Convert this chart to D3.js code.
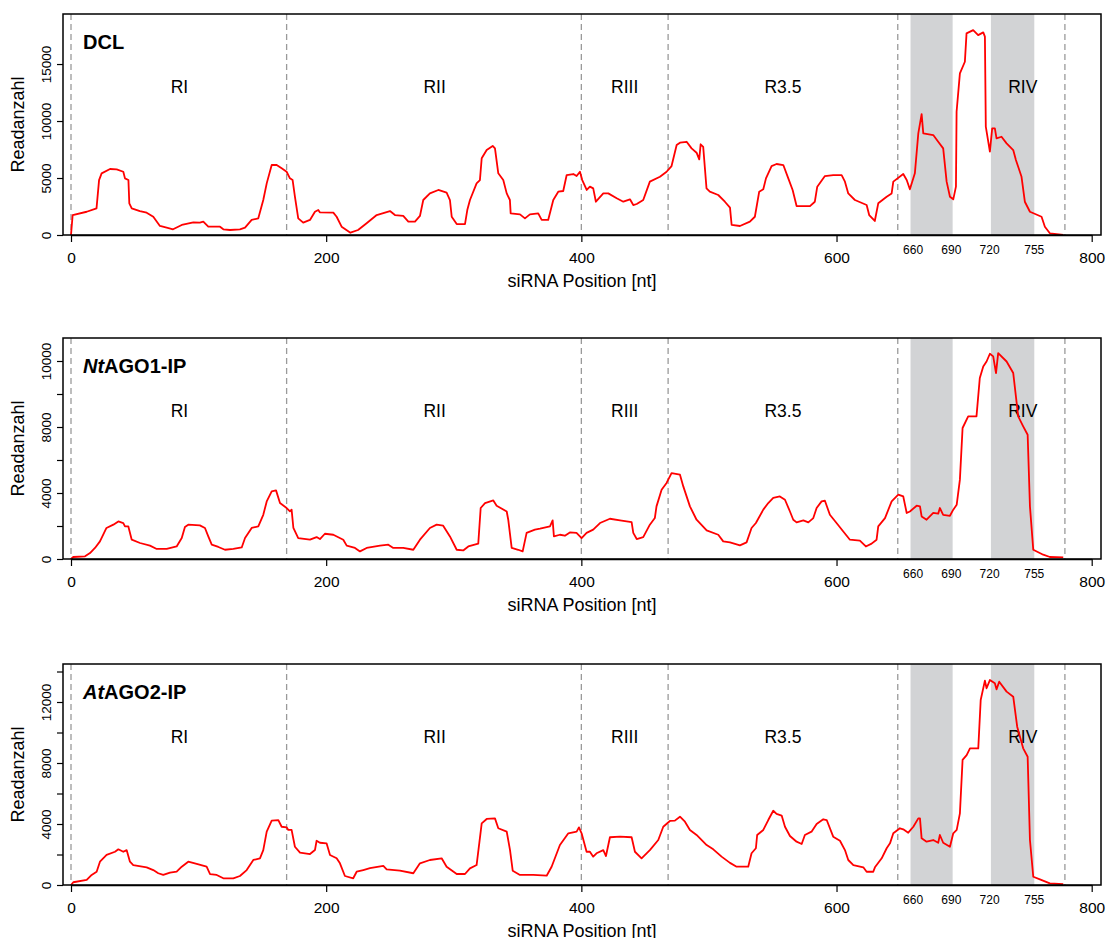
<!DOCTYPE html>
<html><head><meta charset="utf-8">
<script src="https://cdn.jsdelivr.net/npm/d3@7"></script>
<style>
body{margin:0;background:#fff;}
text{font-family:"Liberation Sans",Arial,Helvetica,sans-serif;fill:#000;}
</style></head>
<body><svg id="chart" width="1111" height="938"></svg>
<script>
// ---------- DATA ----------
const panelTitles = ["DCL", "AGO1-IP", "AGO2-IP"];
const panelItalicPrefix = ["", "Nt", "At"];
const regionNames = ["RI", "RII", "RIII", "R3.5", "RIV"];
const regionLabelPos = [85, 285, 434, 558, 746];
const regionBoundaries = [0, 169, 400, 468, 648, 779];
const shadedBands = [[658, 691], [721, 755]];
const xMajorTicks = [0, 200, 400, 600, 800];
const xMinorLabels = [660, 690, 720, 755];

const yTicks1 = [0, 5000, 10000, 15000];
const yLabels1 = ["0", "5000", "10000", "15000"];
const yTicks2 = [0, 2000, 4000, 6000, 8000, 10000, 12000];
const yLabels2 = ["0", "", "4000", "", "8000", "", "10000"];
const yTicks3 = [0, 2000, 4000, 6000, 8000, 10000, 12000, 14000];
const yLabels3 = ["0", "", "4000", "", "8000", "", "12000", ""];
const yMax = [19390, 13394, 14492];

const dclPos = [0,1.3,12.3,20,22,24,30.6,35.8,41,42.3,45,45.7,47.6,54,59.3,64.5,69.7,75,80,86.8,95.9,101,103.7,107.6,116.8,119.4,124.6,132.4,136.4,141.6,146.8,150.7,153.4,157.3,161.2,165.1,169,171.6,173.7,175.5,178.1,182,187.3,191.2,193.8,195,205.6,208.2,212.1,219,225,231.7,239.6,250,253.9,260.4,264.4,269.6,273.5,276.1,281.3,287.9,294.4,297,298.4,302.3,308.8,310.6,312.7,317.9,320.5,321.9,325.8,330.5,332.3,334.9,338.8,341.5,344,344.6,351.9,355.8,359.7,366.2,368.9,374,378,381.9,385.8,388.5,393.7,396.3,398.9,400.7,404.2,406.7,409.3,411.4,417.2,421.1,427.7,432.9,438.1,440.7,443.4,448.5,453.7,461.6,466.8,470.7,474.7,477.3,482.5,486.4,490.3,492.4,493.5,495.5,498.1,500.7,507.3,512.5,516.5,517.8,524.3,532.1,536,539.4,542.6,544.7,549.1,553,558.3,562.2,565.6,568.7,579.2,583,584.9,590.9,597.4,604,606.6,609.2,614.4,623.6,625.6,630,632.7,639.3,643.2,644.5,652.3,655,657.5,661.4,664.1,666.7,668,675.8,679.7,683.6,686.3,688.9,691.5,693.6,694.1,696.7,700.6,701.9,707.1,711,715,716.3,717,720.2,722,724.1,725.4,729.3,733.3,738.5,740.6,745,747.6,751.6,760.7,763.3,767.2,777.7];
const dclReads = [0,1754,2040,2340,4820,5410,5790,5760,5550,4970,4820,2780,2340,2100,1960,1600,790,640,500,880,1110,1080,1170,730,730,500,440,500,640,1320,1460,3070,4530,6140,6140,5850,5550,4970,4820,3360,1460,1080,1320,2040,2190,1990,1960,1600,730,200,440,1030,1750,2100,1750,1670,1170,1170,1670,3070,3650,3950,3710,3070,1600,960,960,2190,3070,4530,4820,6730,7450,7810,7600,5410,4820,3650,3070,1900,1810,1460,1810,1900,1320,1320,3070,3800,3860,5260,5350,5170,5550,4820,3950,4240,4090,2920,3650,3650,3220,2920,3130,2630,2720,3070,4680,5110,5550,6050,7890,8100,8180,7600,7220,6640,7960,7740,4090,3800,3510,2920,2400,880,790,1170,1600,3800,4010,4970,6050,6230,6140,4970,3950,2540,2540,2920,4240,5170,5260,5260,4680,3650,3070,2630,1750,1230,2780,3360,3650,4680,5350,4820,4010,5410,8920,10610,8920,8770,8180,7600,4680,3360,3130,4240,10810,14180,15200,17690,17980,17540,17780,17400,9500,7310,9360,9360,8480,8620,8040,7450,6580,5110,2920,2040,1600,730,150,0];

const ago1Pos = [0,1.8,11,14.9,18.8,22.7,27.8,33.2,37.1,41,42.3,44.9,47.6,54.1,61.9,67.2,75,82.8,86.8,89.3,91.9,101,105,107.6,110.3,115.5,120.7,127.2,133.8,136.4,141.6,146.8,150.7,153.4,157.3,160.7,163.8,169,171.6,172.9,174.3,178.1,187.3,192.5,195.1,199,205.6,213.4,216.1,222.6,226.5,231.7,242.2,248.7,252.6,260.4,268.3,273.5,281.3,286.6,291.7,297,302.3,307.4,311.4,319.2,321.1,324.5,331,333.6,341.5,342.7,345.4,350.5,354,357.1,363.6,367.6,375.4,377.5,378.5,383.2,387.1,391,396.2,400.2,404.1,409.3,414.6,422.4,430.3,439.4,440.7,443.4,448.5,453.7,457.6,458.9,462.9,466.8,470.7,477.3,479.9,485.1,490.3,498.2,507.3,511.2,516.5,524.3,529.5,533.4,536.8,542.6,546.5,550.4,555.6,559.6,563.5,566.1,568.7,574,577.9,581.8,584.4,588.3,590.9,594.8,600,605.3,610.5,618.3,623,627.5,631.4,632.7,638,643.2,648.4,652.3,655,657.5,662.8,665.4,666.7,670.6,675.8,679.7,681,683.6,688.9,691.5,694.2,696.7,698.8,703.2,709.7,712.3,715,717.6,720.2,722.8,725,726.7,733.3,738.5,742.4,746.3,749.8,751.6,754.2,762,767.2,777.7];
const ago1Reads = [0,120,160,360,670,1070,1880,2080,2280,2180,1980,1980,1170,970,810,610,610,760,1270,1940,2080,2040,1880,1370,870,730,560,620,700,1270,1880,1980,2680,3490,4100,4160,3390,3090,2890,2990,1880,1270,1170,1330,1210,1530,1470,1170,810,670,460,670,810,870,670,670,560,1170,1880,2080,2020,1370,560,520,760,930,3090,3390,3550,3230,2880,2380,670,560,460,1580,1780,1840,1980,2340,1370,1470,1410,1610,1580,1270,1580,1780,2180,2440,2340,2240,1580,1210,1330,2080,2480,3190,4200,4610,5210,5110,4400,3190,2380,1730,1470,1070,1010,830,1010,1880,2180,2990,3390,3700,3790,3590,2880,2380,2220,2340,2220,2480,3090,3490,3530,2680,2180,1670,1170,1110,760,930,1170,1980,2480,3490,3900,3790,2790,2880,3230,3190,2580,2380,2790,2750,3090,2680,2620,2990,3290,4810,7940,8640,8640,10970,11670,11970,12440,12280,11270,12480,11970,11270,8640,8040,7530,3190,560,260,120,100];

const ago2Pos = [0,1.8,12.3,16.2,20.1,22.7,27.9,34.5,37.1,41,43.6,46.2,48.8,59.3,64.5,68.4,72.3,77.6,82.8,86.8,91.9,98.5,106.3,109,114.2,119.4,127.2,132.4,137.7,142.9,148.1,150.7,153.4,157.3,162.5,165.1,169,170.3,172.9,175.5,179.5,187.3,191.2,192.5,195.1,200.3,203,208.2,210.8,214.7,221.2,223.9,229.1,234.3,244.8,247.4,257.8,268.3,273.5,281.3,290.5,294.4,302.3,308.8,312.7,317.9,321.9,325.8,332.3,334.9,341.5,344.1,346.2,351.9,362.3,372.8,376.7,383.2,389.8,396.3,398.1,400.2,404.1,406.7,409.3,411.9,417.2,419.3,422.4,430.3,439.4,442,447.2,453.7,460.3,464.2,469.4,473.3,477.3,481.2,485.1,490.3,498.2,503.4,509.9,516.5,521.7,530.8,533.4,536.8,537.8,542.6,546.5,550.4,553,557,559.6,563.5,568.7,572.7,575.2,580.4,584.4,589.6,592.3,597.4,602.7,606.6,609.2,613.2,621,623.6,628.8,630.1,635.4,639.3,641.9,644.5,649.7,652.3,656.2,660.2,664.1,665.4,666.7,670.6,675.8,679.7,681,683.6,688.9,691.5,694.2,696.7,698.8,702,704.6,711.1,713,716.3,717.6,720.2,724.1,725.4,727.5,733.3,738.5,741.6,746.3,749.8,751.6,754.2,759.4,767.2,777.7];
const ago2Reads = [0,180,330,660,870,1530,1970,2180,2340,2180,2290,1530,1310,1160,980,770,660,810,870,1200,1530,1380,1200,720,660,440,440,590,980,1640,1750,2290,3500,4220,4260,3820,3780,3610,3610,2510,2120,2030,2290,2900,2770,2730,1970,1750,1420,590,440,870,980,1100,1250,1030,940,770,1420,1640,1750,1200,720,720,1090,1310,4040,4330,4370,3720,3500,2290,940,660,660,610,1200,2620,3390,3500,3780,3390,2180,2180,1860,2080,2290,1900,3130,3170,3130,2180,1750,2290,2950,3820,4200,4220,4480,4150,3610,3280,2620,2340,1860,1450,1200,1200,2080,2410,3280,3610,4260,4870,4660,4550,3820,3210,2840,2690,3280,3500,4000,4310,4260,3170,2900,2290,1640,1310,1160,870,870,1160,1750,2410,2730,3390,3720,3650,3430,3820,4370,4370,3060,2840,2950,2770,3280,2770,2510,3390,3610,4700,8200,8520,8960,8960,12130,13400,12900,13440,13230,12830,13330,12680,12350,10380,8960,8410,2950,540,370,110,60];

// ---------- LAYOUT ----------
const panels = [
  {pos: dclPos, reads: dclReads, ticks: yTicks1, labels: yLabels1, ymax: yMax[0], top: 14},
  {pos: ago1Pos, reads: ago1Reads, ticks: yTicks2, labels: yLabels2, ymax: yMax[1], top: 338},
  {pos: ago2Pos, reads: ago2Reads, ticks: yTicks3, labels: yLabels3, ymax: yMax[2], top: 664}
];
const ph = 221, boxL = 63, boxR = 1101;
const svg = d3.select("#chart");
const x = d3.scaleLinear().domain([0, 800]).range([71, 1091.7]);

panels.forEach((p, i) => {
  const top = p.top, bottom = top + ph;
  const y = d3.scaleLinear().domain([0, p.ymax]).range([bottom, top]);
  const g = svg.append("g");

  // shaded bands
  g.selectAll("rect.band").data(shadedBands).join("rect")
    .attr("x", d => x(d[0])).attr("width", d => x(d[1]) - x(d[0]))
    .attr("y", top).attr("height", ph).attr("fill", "#d2d3d5");

  // dashed boundaries
  g.selectAll("line.bd").data(regionBoundaries).join("line")
    .attr("x1", d => x(d)).attr("x2", d => x(d))
    .attr("y1", top).attr("y2", bottom)
    .attr("stroke", "#9a9a9a").attr("stroke-width", 1.3)
    .attr("stroke-dasharray", "6,4");

  // region labels
  g.selectAll("text.rg").data(regionNames).join("text")
    .attr("x", (d, k) => x(regionLabelPos[k])).attr("y", top + 73)
    .attr("dy", "0.35em").attr("text-anchor", "middle")
    .style("font-size", "17.5px").text(d => d);

  // curve
  const pts = p.pos.map((v, k) => [v, p.reads[k]]);
  g.append("path").datum(pts)
    .attr("d", d3.line().x(d => x(d[0])).y(d => y(d[1])))
    .attr("fill", "none").attr("stroke", "#ff0000").attr("stroke-width", 1.8)
    .attr("stroke-linejoin", "round");

  // box
  g.append("rect").attr("x", boxL).attr("y", top).attr("width", boxR - boxL).attr("height", ph)
    .attr("fill", "none").attr("stroke", "#000").attr("stroke-width", 1.5);

  // y axis
  const ya = g.append("g").attr("transform", `translate(${boxL},0)`)
    .call(d3.axisLeft(y).tickValues(p.ticks).tickSize(6).tickSizeOuter(0)
      .tickFormat((d, k) => p.labels[k]));
  ya.select(".domain").remove();
  ya.selectAll(".tick line").attr("stroke", "#000").attr("stroke-width", 1.2);
  ya.selectAll(".tick text").attr("transform", "rotate(-90)")
    .attr("x", 0).attr("y", -16.5).attr("dy", "0.35em").attr("text-anchor", "middle")
    .style("font-size", "13.5px").style("font-family", null);
  ya.attr("font-family", null).attr("font-size", null);

  // x axis
  const xa = g.append("g").attr("transform", `translate(0,${bottom})`)
    .call(d3.axisBottom(x).tickValues(xMajorTicks).tickSize(7).tickSizeOuter(0));
  xa.select(".domain").attr("stroke", "#000").attr("stroke-width", 1.5);
  xa.selectAll(".tick line").attr("stroke", "#000").attr("stroke-width", 1.2);
  xa.selectAll(".tick text").attr("y", 23).attr("dy", "0.35em")
    .style("font-size", "15.5px");
  xa.attr("font-family", null).attr("font-size", null);

  g.selectAll("text.mn").data(xMinorLabels).join("text")
    .attr("x", d => x(d)).attr("y", bottom + 15).attr("dy", "0.35em")
    .attr("text-anchor", "middle").style("font-size", "12px").text(d => d);

  // axis titles
  g.append("text").attr("x", (boxL + boxR) / 2).attr("y", bottom + 46).attr("dy", "0.35em")
    .attr("text-anchor", "middle").style("font-size", "18px").text("siRNA Position [nt]");
  g.append("text").attr("transform", `translate(18,${(top + bottom) / 2}) rotate(-90)`)
    .attr("dy", "0.35em").attr("text-anchor", "middle").style("font-size", "18px").text("Readanzahl");

  // panel title
  const t = g.append("text").attr("x", 83).attr("y", top + 28).attr("dy", "0.35em")
    .style("font-size", "20px").style("font-weight", "bold");
  if (panelItalicPrefix[i]) t.append("tspan").style("font-style", "italic").text(panelItalicPrefix[i]);
  t.append("tspan").text(i === 0 ? panelTitles[0] : panelTitles[i]);
});
</script></body></html>
